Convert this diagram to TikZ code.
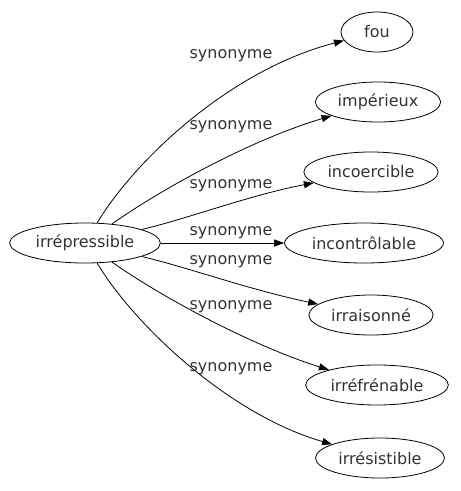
\documentclass[tikz,border=0pt]{standalone}
\usepackage{fontspec}
\setmainfont{DejaVu Sans}
\usetikzlibrary{shapes.geometric,arrows.meta}
\begin{document}
\begin{tikzpicture}[x=1pt,y=-1pt,
  word/.style={ellipse,draw,line width=0.8pt,inner xsep=4pt,inner ysep=2pt,minimum width=72pt,minimum height=40pt,font=\fontsize{16}{18}\selectfont,text=black!80},
  syn/.style={font=\fontsize{16}{18}\selectfont,text=black!80},
  link/.style={line width=0.8pt,-{Triangle[length=10pt,width=7pt]}}]
\useasboundingbox (0,0) rectangle (461,491);
\node[word] (c) at (85,243) {irrépressible};
\node[word] (n1) at (377,32) {fou};
\node[word] (n2) at (378,102) {impérieux};
\node[word] (n3) at (371,172) {incoercible};
\node[word] (n4) at (364,243) {incontrôlable};
\node[word] (n5) at (371,315) {irraisonné};
\node[word] (n6) at (377,385) {irréfrénable};
\node[word] (n7) at (380,458) {irrésistible};
\draw[link] (c) .. controls (135,160) and (230,70) .. (n1);
\draw[link] (c) .. controls (160,190) and (250,140) .. (n2);
\draw[link] (c) .. controls (190,218) and (250,195) .. (n3);
\draw[link] (c) -- (n4);
\draw[link] (c) .. controls (190,268) and (250,290) .. (n5);
\draw[link] (c) .. controls (160,296) and (250,345) .. (n6);
\draw[link] (c) .. controls (135,326) and (230,415) .. (n7);
\node[syn] (l1) at (231,56) {synonyme};
\node[syn] (l2) at (231,127) {synonyme};
\node[syn] (l3) at (231,186) {synonyme};
\node[syn] (l4) at (231,233) {synonyme};
\node[syn] (l5) at (231,262) {synonyme};
\node[syn] (l6) at (231,307) {synonyme};
\node[syn] (l7) at (231,369) {synonyme};
\end{tikzpicture}
\end{document}
